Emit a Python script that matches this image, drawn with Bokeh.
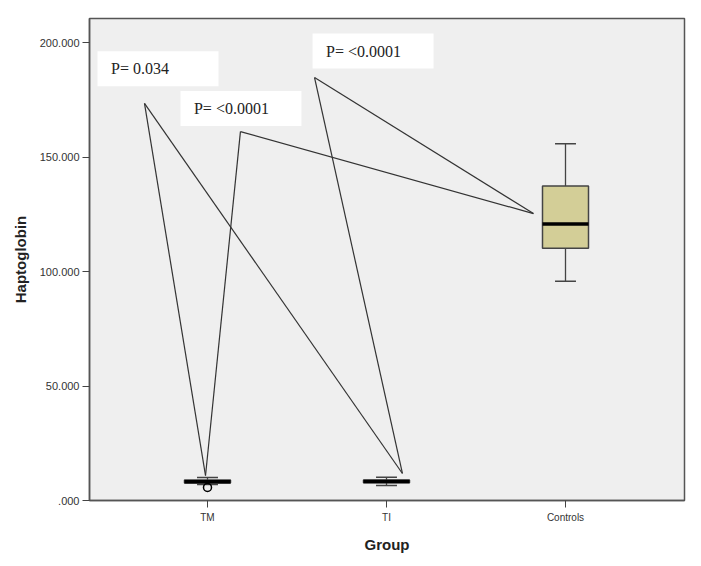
from bokeh.plotting import figure
from bokeh.models import Range1d, FixedTicker, ColumnDataSource
from bokeh.core.properties import value
from bokeh.embed import file_html
from bokeh.resources import INLINE

# ---- data ----
categories = ["TM", "TI", "Controls"]
positions = [1, 2, 3]
q1 = [7.6, 7.8, 110.2]
median = [8.2, 8.3, 120.7]
q3 = [8.9, 9.0, 137.3]
whisker_low = [7.0, 6.6, 95.8]
whisker_high = [10.0, 10.2, 155.8]
outlier_pos = [1]
outlier_value = [5.7]

y_ticks = [0, 50, 100, 150, 200]
y_tick_labels = [".000", "50.000", "100.000", "150.000", "200.000"]

# p-value annotations
p_texts = ["P= 0.034", "P= <0.0001", "P= <0.0001"]
p_label_x = [0.7235, 1.187, 1.925]
p_label_y = [188.6, 171.2, 196.3]
p_vertex_x = [0.648, 1.184, 1.598]
p_vertex_y = [173.4, 161.1, 184.7]
p_pairs = [(0, 1), (0, 2), (1, 2)]
# where the annotation lines meet each group
group_end_x = [0.989, 2.089, 2.821]
group_end_y = [10.9, 11.8, 125.3]

box_width = 0.257
cap_width = 0.117

p = figure(width=701, height=566, output_backend="svg", toolbar_location=None,
           x_range=Range1d(0.3408, 3.6648), y_range=Range1d(0, 210.5),
           min_border_left=89, min_border_right=17, min_border_top=18, min_border_bottom=66)

p.background_fill_color = "#efefef"
p.border_fill_color = "white"
p.outline_line_color = "#555555"
p.outline_line_width = 1.5
p.grid.visible = False

# axes
p.yaxis.ticker = FixedTicker(ticks=y_ticks)
p.yaxis.major_label_overrides = {t: l for t, l in zip(y_ticks, y_tick_labels)}
p.xaxis.ticker = FixedTicker(ticks=positions)
p.xaxis.major_label_overrides = {t: l for t, l in zip(positions, categories)}
for ax in (p.xaxis, p.yaxis):
    ax.major_tick_in = 0
    ax.major_tick_out = 7
    ax.minor_tick_line_color = None
    ax.axis_line_color = "#555555"
    ax.axis_line_width = 1.5
    ax.major_tick_line_color = "#444444"
    ax.major_label_text_font = "Liberation Sans"
    ax.major_label_text_color = "#333333"
    ax.axis_label_text_font = "Liberation Sans"
    ax.axis_label_text_font_style = "bold"
    ax.axis_label_text_color = "#222222"
p.yaxis.major_label_text_font_size = "11px"
p.xaxis.major_label_text_font_size = "10px"
p.yaxis.axis_label = "Haptoglobin"
p.xaxis.axis_label = "Group"
p.yaxis.axis_label_text_font_size = "15px"
p.xaxis.axis_label_text_font_size = "15px"
p.yaxis.major_label_standoff = 3
p.xaxis.major_label_standoff = 4
p.yaxis.axis_label_standoff = 8
p.xaxis.axis_label_standoff = 10

# annotation lines
sx0, sy0, sx1, sy1 = [], [], [], []
for i, (a, b) in enumerate(p_pairs):
    for g in (a, b):
        sx0.append(p_vertex_x[i]); sy0.append(p_vertex_y[i])
        sx1.append(group_end_x[g]); sy1.append(group_end_y[g])
p.segment(x0=sx0, y0=sy0, x1=sx1, y1=sy1, line_color="#333333", line_width=1.2)

# boxplots
src = ColumnDataSource(dict(x=positions, q1=q1, q3=q3, med=median, lo=whisker_low, hi=whisker_high,
                            cl=[x - cap_width / 2 for x in positions],
                            cr=[x + cap_width / 2 for x in positions],
                            bl=[x - box_width / 2 for x in positions],
                            br=[x + box_width / 2 for x in positions]))
p.segment(x0="x", y0="q3", x1="x", y1="hi", source=src, line_color="#444444", line_width=1.3)
p.segment(x0="x", y0="q1", x1="x", y1="lo", source=src, line_color="#444444", line_width=1.3)
p.segment(x0="cl", y0="hi", x1="cr", y1="hi", source=src, line_color="#444444", line_width=1.5)
p.segment(x0="cl", y0="lo", x1="cr", y1="lo", source=src, line_color="#444444", line_width=1.5)
p.vbar(x="x", bottom="q1", top="q3", width=box_width, source=src,
       fill_color="#d3ce97", line_color="#444444", line_width=1.5)
p.segment(x0="bl", y0="med", x1="br", y1="med", source=src, line_color="black", line_width=3.5)

p.scatter(x=outlier_pos, y=outlier_value, marker="circle", size=8,
          fill_color=None, line_color="black", line_width=1.5)

# p-value label boxes
p.rect(x=p_label_x, y=p_label_y, width=121, height=35, width_units="screen", height_units="screen",
       fill_color="white", line_color=None)
p.text(x=p_label_x, y=p_label_y, text=p_texts, x_offset=-47, text_align="left",
       text_baseline="middle", text_font=value("Liberation Serif"), text_font_size="16px",
       text_color="#222222")

open("out.html", "w").write(file_html(p, INLINE))
